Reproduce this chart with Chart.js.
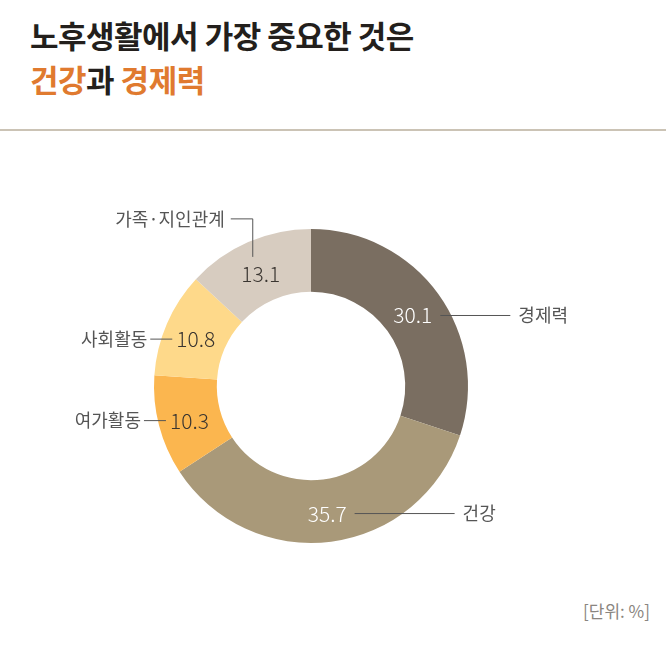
<!DOCTYPE html>
<html><head><meta charset="utf-8">
<script src="https://cdn.jsdelivr.net/npm/chart.js@4"></script>
<style>
body{margin:0;width:666px;height:645px;background:#fff;font-family:"Noto Sans CJK KR",sans-serif;position:relative;overflow:hidden}
.t{position:absolute;left:30px;font-size:31px;font-weight:700;color:#231f1c;letter-spacing:-0.5px}
.o{color:#e07a2f}
#sep{position:absolute;left:0;top:129px;width:666px;height:2px;background:#cbc3b5}
#unit{position:absolute;right:16px;top:598px;font-size:17px;color:#8a8580}
#c{position:absolute;left:0;top:0}
</style></head><body>
<div class="t" style="top:12px">노후생활에서 가장 중요한 것은</div>
<div class="t" style="top:56px"><span class="o">건강</span>과 <span class="o">경제력</span></div>
<div id="sep"></div>
<div id="unit">[단위: %]</div>
<canvas id="c" width="666" height="645"></canvas>
<script>
const categories=["경제력","건강","여가활동","사회활동","가족·지인관계"];
const values=[30.1,35.7,10.3,10.8,13.1];
const colors=["#7a6e61","#a99979","#fbb64f","#fed98a","#d7ccc0"];
const valueColors=["#fff","#fff","#3a3530","#3a3530","#3a3530"];
const labelPlugin={id:'lbl',afterDatasetsDraw(chart){
 const ctx=chart.ctx;const meta=chart.getDatasetMeta(0);
 ctx.save();
 meta.data.forEach((a,i)=>{
  const p=a.getProps(['x','y','startAngle','endAngle','innerRadius','outerRadius'],true);
  const m=(p.startAngle+p.endAngle)/2,r=(p.innerRadius+p.outerRadius)/2;
  const x=p.x+r*Math.cos(m),y=p.y+r*Math.sin(m)+3;
  ctx.font='300 21px "Noto Sans CJK KR"';ctx.fillStyle=valueColors[i];
  ctx.textAlign='center';ctx.textBaseline='middle';
  const txt=values[i].toFixed(1);ctx.fillText(txt,x,y);
  const w=ctx.measureText(txt).width;
  ctx.strokeStyle='#555';ctx.lineWidth=1;ctx.beginPath();
  ctx.font='18px "Noto Sans CJK KR"';ctx.fillStyle='#555';
  if(i<2){const x1=x+w/2+8,x2=x1+(i==0?70:100);
   ctx.moveTo(x1,y);ctx.lineTo(x2,y);ctx.stroke();
   ctx.textAlign='left';ctx.fillText(categories[i],x2+8,y);}
  else if(i<4){const x1=x-w/2-4,x2=x1-22;
   ctx.moveTo(x1,y);ctx.lineTo(x2,y);ctx.stroke();
   ctx.textAlign='right';ctx.fillText(categories[i],x2-3,y);}
  else{const yt=y-55;ctx.moveTo(x-8,y-17);ctx.lineTo(x-8,yt);ctx.lineTo(x-30,yt);ctx.stroke();
   ctx.textAlign='right';ctx.fillText(categories[i],x-36,yt);}
 });
 ctx.restore();}};
new Chart(document.getElementById('c'),{type:'doughnut',
 data:{labels:categories,datasets:[{data:values,backgroundColor:colors,borderWidth:0}]},
 options:{responsive:false,animation:false,cutout:'60%',
  layout:{padding:{left:154,right:198,top:229,bottom:102}},
  plugins:{legend:{display:false},tooltip:{enabled:false}}},
 plugins:[labelPlugin]});
</script></body></html>
